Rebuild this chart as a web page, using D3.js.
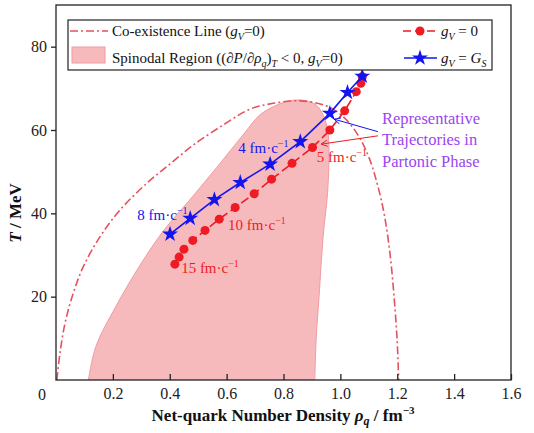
<!DOCTYPE html>
<html>
<head>
<meta charset="utf-8">
<script src="https://cdn.jsdelivr.net/npm/d3@7"></script>
<style>
  body { margin: 0; background: #fff; }
  svg { font-family: "Liberation Serif", "Times New Roman", serif; }
</style>
</head>
<body>
<svg id="chart" width="534" height="433"></svg>
<script>
// gV = 0 trajectory (red circles)
var redRho = [0.418, 0.433, 0.450, 0.481, 0.524, 0.574, 0.630, 0.697, 0.758, 0.830, 0.902, 0.963, 1.015, 1.056, 1.072, 1.077];
var redT   = [27.8, 29.5, 31.4, 33.5, 35.9, 38.6, 41.4, 44.7, 48.2, 52.0, 55.8, 60.0, 64.6, 69.2, 71.2, 72.8];

// gV = GS trajectory (blue stars)
var blueRho = [0.401, 0.472, 0.557, 0.648, 0.753, 0.859, 0.963, 1.025, 1.077];
var blueT   = [35.0, 38.8, 43.3, 47.4, 51.8, 57.2, 64.0, 69.0, 72.9];

// co-existence line
var coexRho = [0.003, 0.014, 0.032, 0.061, 0.096, 0.155, 0.225, 0.319, 0.40, 0.483, 0.588, 0.682, 0.764, 0.858, 0.95, 1.01, 1.06, 1.10, 1.13, 1.155, 1.175, 1.19, 1.20, 1.205];
var coexT   = [0, 6.5, 13.7, 20.9, 27.2, 34.4, 40.8, 47.2, 51.8, 56.4, 61.2, 65.0, 66.4, 67.0, 65.8, 63.2, 59.0, 53.5, 47.0, 39.5, 30.0, 19.0, 9.0, 0];

// spinodal region boundary (left edge up, right edge down)
var spinRho = [0.114, 0.14, 0.21, 0.295, 0.38, 0.48, 0.565, 0.66, 0.72, 0.80, 0.845, 0.88, 0.915, 0.94, 0.955, 0.96, 0.955, 0.94, 0.925, 0.915, 0.91];
var spinT   = [0, 8, 17.6, 27.5, 36, 44, 51, 59, 63.8, 66.6, 67.2, 67.0, 66.0, 63.5, 60, 55, 45, 35, 20, 10, 0];

// tick labels
var xTicks = [0.2, 0.4, 0.6, 0.8, 1.0, 1.2, 1.4, 1.6];
var yTicks = [20, 40, 60, 80];

// time labels along the trajectories
var redLabels  = [{t: "15", rho: 0.44, T: 25.7}, {t: "10", rho: 0.605, T: 36.0}, {t: "5", rho: 0.917, T: 52.4}];
var blueLabels = [{t: "8", rho: 0.286, T: 38.4}, {t: "4", rho: 0.641, T: 54.5}];

// arrows for the annotation [from, to] in (rho, T)
var blueArrow = [[1.132, 59.6], [0.978, 62.6]];
var redArrow  = [[1.132, 58.6], [0.932, 56.6]];
var noteLines = ["Representative", "Trajectories in", "Partonic Phase"];

var svg = d3.select("#chart");
var x = d3.scaleLinear().domain([0, 1.6]).range([56, 511]);
var y = d3.scaleLinear().domain([0, 90]).range([380, 5]);

var redC = "#ee1a24", blueC = "#1414f0", coexC = "#e8505c", noteC = "#9b45ef";

// spinodal region
var spin = d3.range(spinRho.length).map(function(i) { return [spinRho[i], spinT[i]]; });
svg.append("path")
    .datum(spin)
    .attr("d", d3.line().x(function(d) { return x(d[0]); }).y(function(d) { return y(d[1]); }).curve(d3.curveCatmullRom))
    .attr("fill", "#f6babd")
    .attr("stroke", "#f19aa0")
    .attr("stroke-width", 1);

// co-existence line
var coex = d3.range(coexRho.length).map(function(i) { return [coexRho[i], coexT[i]]; });
svg.append("path")
    .datum(coex)
    .attr("d", d3.line().x(function(d) { return x(d[0]); }).y(function(d) { return y(d[1]); }).curve(d3.curveCatmullRom))
    .attr("fill", "none")
    .attr("stroke", coexC)
    .attr("stroke-width", 1.6)
    .attr("stroke-dasharray", "8,3,2,3");

// red trajectory
var red = d3.range(redRho.length).map(function(i) { return [redRho[i], redT[i]]; });
svg.append("path")
    .datum(red)
    .attr("d", d3.line().x(function(d) { return x(d[0]); }).y(function(d) { return y(d[1]); }))
    .attr("fill", "none")
    .attr("stroke", redC)
    .attr("stroke-width", 1.6)
    .attr("stroke-dasharray", "9,4");
svg.selectAll(".rdot").data(red).enter().append("circle")
    .attr("cx", function(d) { return x(d[0]); })
    .attr("cy", function(d) { return y(d[1]); })
    .attr("r", 4.5)
    .attr("fill", redC);

// blue trajectory
var blue = d3.range(blueRho.length).map(function(i) { return [blueRho[i], blueT[i]]; });
svg.append("path")
    .datum(blue)
    .attr("d", d3.line().x(function(d) { return x(d[0]); }).y(function(d) { return y(d[1]); }))
    .attr("fill", "none")
    .attr("stroke", blueC)
    .attr("stroke-width", 1.6);
var star = d3.symbol().type(d3.symbolStar).size(80);
svg.selectAll(".bstar").data(blue).enter().append("path")
    .attr("d", star)
    .attr("transform", function(d) { return "translate(" + x(d[0]) + "," + y(d[1]) + ")"; })
    .attr("fill", blueC);

// time labels
function fmLabel(g, d, color) {
    var t = g.append("text").attr("x", x(d.rho)).attr("y", y(d.T))
        .attr("fill", color).attr("font-size", 15);
    t.append("tspan").text(d.t + " fm\u00b7c");
    t.append("tspan").text("\u22121").attr("font-size", 10).attr("dy", -6);
}
redLabels.forEach(function(d) { fmLabel(svg, d, redC); });
blueLabels.forEach(function(d) { fmLabel(svg, d, blueC); });

// annotation arrows
function arrow(pts, color) {
    var x0 = x(pts[0][0]), y0 = y(pts[0][1]), x1 = x(pts[1][0]), y1 = y(pts[1][1]);
    svg.append("line").attr("x1", x0).attr("y1", y0).attr("x2", x1).attr("y2", y1)
        .attr("stroke", color).attr("stroke-width", 1);
    var a = Math.atan2(y1 - y0, x1 - x0), L = 7, w = 0.45;
    svg.append("path")
        .attr("d", "M" + (x1 - L * Math.cos(a - w)) + "," + (y1 - L * Math.sin(a - w)) +
                   "L" + x1 + "," + y1 +
                   "L" + (x1 - L * Math.cos(a + w)) + "," + (y1 - L * Math.sin(a + w)))
        .attr("fill", "none").attr("stroke", color).attr("stroke-width", 1);
}
arrow(blueArrow, blueC);
arrow(redArrow, redC);

var note = svg.append("text").attr("fill", noteC).attr("font-size", 16.5);
noteLines.forEach(function(s, i) {
    note.append("tspan").attr("x", 382).attr("y", 123.5 + i * 21.5).text(s);
});

// frame
svg.append("rect").attr("x", 56).attr("y", 5).attr("width", 455).attr("height", 375)
    .attr("fill", "none").attr("stroke", "#222").attr("stroke-width", 1.3);

// axes
var xAxis = svg.append("g").attr("transform", "translate(0,380)")
    .call(d3.axisBottom(x).tickValues(xTicks).tickSize(-6).tickPadding(8).tickFormat(d3.format(".1f")));
var yAxis = svg.append("g").attr("transform", "translate(56,0)")
    .call(d3.axisLeft(y).tickValues(yTicks).tickSize(5).tickPadding(4));
[xAxis, yAxis].forEach(function(g) {
    g.select(".domain").remove();
    g.selectAll("line").attr("stroke", "#222").attr("stroke-width", 1.3);
    g.selectAll("text").attr("font-family", "Liberation Serif").attr("font-size", 16).attr("fill", "#222");
});
svg.append("text").attr("x", x(0) - 14).attr("y", 400).attr("text-anchor", "middle")
    .attr("font-size", 16).attr("fill", "#222").text("0");

// axis titles
var xt = svg.append("text").attr("x", 283).attr("y", 421).attr("text-anchor", "middle")
    .attr("font-size", 17).attr("font-weight", "bold").attr("fill", "#111");
xt.append("tspan").text("Net-quark Number Density ");
xt.append("tspan").text("\u03c1").attr("font-style", "italic");
xt.append("tspan").text("q").attr("font-style", "italic").attr("font-size", 12).attr("dy", 4);
xt.append("tspan").text(" / fm").attr("dy", -4);
xt.append("tspan").text("\u22123").attr("font-size", 11).attr("dy", -7);

var yt = svg.append("text").attr("transform", "translate(21,213) rotate(-90)").attr("text-anchor", "middle")
    .attr("font-size", 17).attr("font-weight", "bold").attr("fill", "#111");
yt.append("tspan").text("T").attr("font-style", "italic");
yt.append("tspan").text(" / MeV");

// legend
var lg = svg.append("g");
lg.append("rect").attr("x", 68).attr("y", 20).attr("width", 424).attr("height", 50)
    .attr("fill", "#fff").attr("stroke", "#222").attr("stroke-width", 1.2);
lg.append("line").attr("x1", 70).attr("x2", 108).attr("y1", 31).attr("y2", 31)
    .attr("stroke", coexC).attr("stroke-width", 1.6).attr("stroke-dasharray", "8,3,2,3");
lg.append("rect").attr("x", 72).attr("y", 47).attr("width", 33).attr("height", 16)
    .attr("fill", "#f6babd").attr("stroke", "#f19aa0");

function gv(t, sub) {
    t.append("tspan").text("g").attr("font-style", "italic");
    t.append("tspan").text(sub).attr("font-style", "italic").attr("font-size", 10).attr("dy", 3.5);
}
var l1 = lg.append("text").attr("x", 112).attr("y", 36).attr("font-size", 15).attr("fill", "#111");
l1.append("tspan").text("Co-existence Line (");
gv(l1, "V");
l1.append("tspan").text("=0)").attr("dy", -3.5);

var l2 = lg.append("text").attr("x", 112).attr("y", 63).attr("font-size", 15).attr("fill", "#111");
l2.append("tspan").text("Spinodal Region ((\u2202");
l2.append("tspan").text("P").attr("font-style", "italic");
l2.append("tspan").text("/\u2202");
l2.append("tspan").text("\u03c1").attr("font-style", "italic");
l2.append("tspan").text("q").attr("font-style", "italic").attr("font-size", 10).attr("dy", 3.5);
l2.append("tspan").text(")").attr("dy", -3.5);
l2.append("tspan").text("T").attr("font-style", "italic").attr("font-size", 10).attr("dy", 3.5);
l2.append("tspan").text(" < 0, ").attr("dy", -3.5);
gv(l2, "V");
l2.append("tspan").text("=0)").attr("dy", -3.5);

lg.append("line").attr("x1", 403).attr("x2", 437).attr("y1", 31).attr("y2", 31)
    .attr("stroke", redC).attr("stroke-width", 1.6).attr("stroke-dasharray", "8,4");
lg.append("circle").attr("cx", 420).attr("cy", 31).attr("r", 4.5).attr("fill", redC);
lg.append("line").attr("x1", 404).attr("x2", 437).attr("y1", 58).attr("y2", 58)
    .attr("stroke", blueC).attr("stroke-width", 1.6);
lg.append("path").attr("d", star).attr("transform", "translate(420,58)").attr("fill", blueC);

var l3 = lg.append("text").attr("x", 441).attr("y", 36).attr("font-size", 15).attr("fill", "#111");
gv(l3, "V");
l3.append("tspan").text(" = 0").attr("dy", -3.5);
var l4 = lg.append("text").attr("x", 441).attr("y", 63).attr("font-size", 15).attr("fill", "#111");
gv(l4, "V");
l4.append("tspan").text(" = ").attr("dy", -3.5);
l4.append("tspan").text("G").attr("font-style", "italic");
l4.append("tspan").text("S").attr("font-style", "italic").attr("font-size", 10).attr("dy", 3.5);
</script>
</body>
</html>
